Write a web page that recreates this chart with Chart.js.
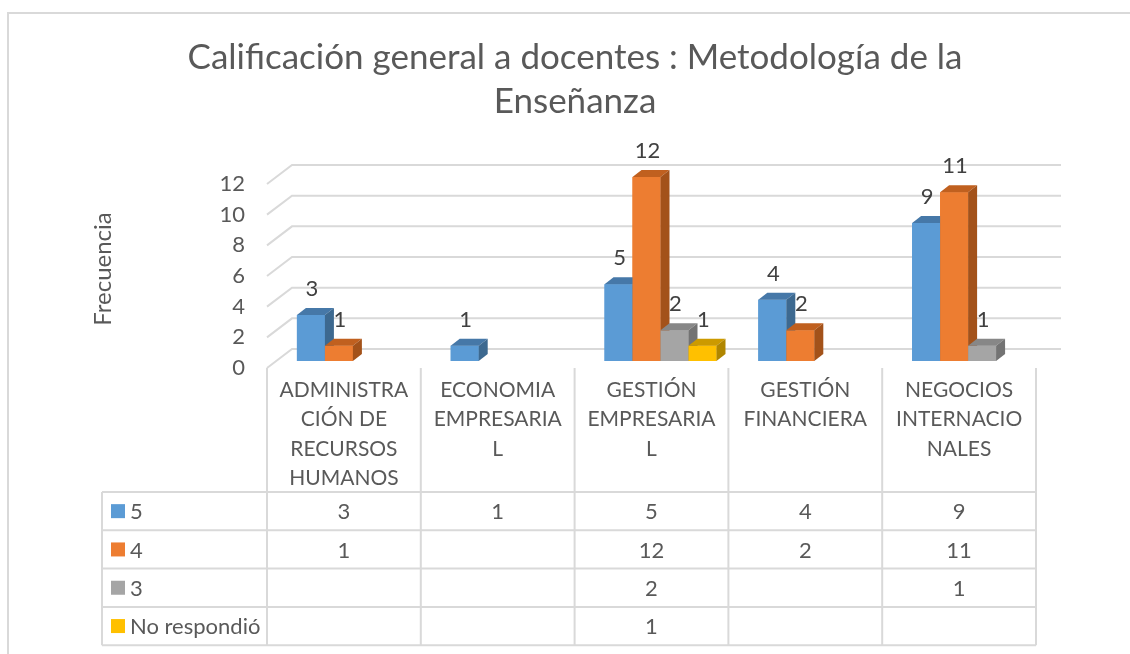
<!DOCTYPE html>
<html>
<head>
<meta charset="utf-8">
<script src="https://cdn.jsdelivr.net/npm/chart.js@4.4.1/dist/chart.umd.min.js"></script>
<style>
  html, body { margin: 0; padding: 0; background: #fff; overflow: hidden; }
  #wrap { position: relative; width: 1130px; height: 654px; }
  #frame {
    position: absolute; left: 7px; top: 12px; width: 1200px; height: 700px;
    border-left: 2px solid #d9d9d9; border-top: 2px solid #d9d9d9;
  }
  canvas { position: absolute; left: 0; top: 0; }
</style>
</head>
<body>
<div id="wrap">
  <div id="frame"></div>
  <canvas id="chart" width="1130" height="654"></canvas>
</div>
<script>
// data
const categories = [
  ['ADMINISTRA', 'CIÓN DE', 'RECURSOS', 'HUMANOS'],
  ['ECONOMIA', 'EMPRESARIA', 'L'],
  ['GESTIÓN', 'EMPRESARIA', 'L'],
  ['GESTIÓN', 'FINANCIERA'],
  ['NEGOCIOS', 'INTERNACIO', 'NALES']
];
const seriesNames = ['5', '4', '3', 'No respondió'];
const valores5 = [3, 1, 5, 4, 9];
const valores4 = [1, null, 12, 2, 11];
const valores3 = [null, null, 2, null, 1];
const noRespondio = [null, null, 1, null, null];

const FONT = 'Lato, "Open Sans", sans-serif';
const TEXT = '#595959';
const GRID = '#d9d9d9';

// colours: front, top, side
const faces = [
  ['#5b9bd5', '#4678a8', '#3d6990'],
  ['#ed7d31', '#c0601f', '#a3521a'],
  ['#a5a5a5', '#878787', '#737373'],
  ['#ffc000', '#cc9a00', '#b08600']
];

// 3d offsets: bar depth, front plane and back wall relative to the bar plane
const DEPTH = { dx: 9, dy: 7 };
const FRONT = { dx: -9, dy: 7 };
const BACK = { dx: 16, dy: -12 };

const backWall = {
  id: 'backWall',
  beforeDatasetsDraw(chart) {
    const { ctx, chartArea: a } = chart;
    const y = chart.scales.y;
    ctx.save();
    ctx.strokeStyle = GRID;
    ctx.lineWidth = 2;
    y.ticks.forEach(t => {
      const py = y.getPixelForValue(t.value);
      ctx.beginPath();
      ctx.moveTo(a.left + FRONT.dx, py + FRONT.dy);
      ctx.lineTo(a.left + BACK.dx, py + BACK.dy);
      ctx.lineTo(a.right + BACK.dx, py + BACK.dy);
      ctx.stroke();
    });
    ctx.restore();
  }
};

const bars3d = {
  id: 'bars3d',
  afterDatasetsDraw(chart) {
    const ctx = chart.ctx;
    ctx.save();
    chart.data.datasets.forEach((ds, i) => {
      const meta = chart.getDatasetMeta(i);
      const [front, top, side] = faces[i];
      meta.data.forEach((el, j) => {
        if (ds.data[j] == null) return;
        const { x, y, base, width } = el.getProps(['x', 'y', 'base', 'width'], true);
        const l = x - width / 2, r = x + width / 2;
        ctx.fillStyle = front;
        ctx.fillRect(l, y, width, base - y);
        ctx.fillStyle = top;
        ctx.beginPath();
        ctx.moveTo(l, y);
        ctx.lineTo(l + DEPTH.dx, y - DEPTH.dy);
        ctx.lineTo(r + DEPTH.dx, y - DEPTH.dy);
        ctx.lineTo(r, y);
        ctx.closePath();
        ctx.fill();
        ctx.fillStyle = side;
        ctx.beginPath();
        ctx.moveTo(r, y);
        ctx.lineTo(r + DEPTH.dx, y - DEPTH.dy);
        ctx.lineTo(r + DEPTH.dx, base - DEPTH.dy);
        ctx.lineTo(r, base);
        ctx.closePath();
        ctx.fill();
      });
    });
    // value labels
    ctx.fillStyle = '#404040';
    ctx.font = '22px ' + FONT;
    ctx.textAlign = 'center';
    ctx.textBaseline = 'middle';
    chart.data.datasets.forEach((ds, i) => {
      chart.getDatasetMeta(i).data.forEach((el, j) => {
        if (ds.data[j] == null) return;
        const { x, y } = el.getProps(['x', 'y'], true);
        ctx.fillText(String(ds.data[j]), x + 1, y - 26);
      });
    });
    ctx.restore();
  }
};

// data table under the plot
const ROW_TOP = 492;
const ROW_H = 38.3;
const TABLE_LEFT = 102;

const dataTable = {
  id: 'dataTable',
  afterDraw(chart) {
    const { ctx, chartArea: a } = chart;
    const xs = chart.scales.x;
    const n = categories.length;
    const catW = (a.right - a.left) / n;
    const left0 = a.left + FRONT.dx;
    const bottom = ROW_TOP + ROW_H * seriesNames.length;
    ctx.save();
    ctx.strokeStyle = GRID;
    ctx.lineWidth = 2;
    ctx.beginPath();
    for (let i = 0; i <= n; i++) {
      const px = left0 + i * catW;
      ctx.moveTo(px, a.bottom + FRONT.dy);
      ctx.lineTo(px, bottom);
    }
    ctx.moveTo(TABLE_LEFT, ROW_TOP);
    ctx.lineTo(TABLE_LEFT, bottom);
    for (let r = 0; r <= seriesNames.length; r++) {
      const py = ROW_TOP + r * ROW_H;
      ctx.moveTo(TABLE_LEFT, py);
      ctx.lineTo(left0 + n * catW, py);
    }
    ctx.stroke();

    ctx.font = '22px ' + FONT;
    ctx.textBaseline = 'middle';
    chart.data.datasets.forEach((ds, r) => {
      const cy = ROW_TOP + r * ROW_H + ROW_H / 2;
      ctx.fillStyle = faces[r][0];
      ctx.fillRect(TABLE_LEFT + 9, cy - 7, 14, 14);
      ctx.fillStyle = TEXT;
      ctx.textAlign = 'left';
      ctx.fillText(ds.label, TABLE_LEFT + 28, cy + 1);
      ctx.textAlign = 'center';
      ds.data.forEach((v, j) => {
        if (v == null) return;
        ctx.fillText(String(v), xs.getPixelForValue(j) + FRONT.dx, cy + 1);
      });
    });
    ctx.restore();
  }
};

const seriesData = [valores5, valores4, valores3, noRespondio];

new Chart(document.getElementById('chart'), {
  type: 'bar',
  data: {
    labels: categories,
    datasets: seriesNames.map((name, i) => ({
      label: name,
      data: seriesData[i],
      backgroundColor: faces[i][0],
      borderWidth: 0
    }))
  },
  options: {
    responsive: false,
    animation: false,
    devicePixelRatio: 1,
    categoryPercentage: 0.728,
    barPercentage: 1,
    layout: { padding: { left: 105, right: 85, top: 36, bottom: 0 } },
    plugins: {
      legend: { display: false },
      tooltip: { enabled: false },
      title: {
        display: true,
        text: ['Calificación general a docentes : Metodología de la', 'Enseñanza'],
        color: TEXT,
        font: { family: FONT, size: 35, weight: 'normal', lineHeight: '44px' },
        padding: { top: 0, bottom: 53 }
      }
    },
    scales: {
      x: {
        grid: { display: false },
        border: { display: false },
        ticks: {
          color: TEXT,
          font: { family: FONT, size: 21, lineHeight: '29.5px' },
          padding: 6,
          labelOffset: FRONT.dx,
          maxRotation: 0,
          autoSkip: false
        },
        afterFit(scale) { scale.height = 293; }
      },
      y: {
        min: 0,
        max: 12,
        grid: { display: false },
        border: { display: false },
        ticks: {
          stepSize: 2,
          color: TEXT,
          font: { family: FONT, size: 22 },
          padding: 23,
          labelOffset: FRONT.dy
        },
        title: {
          display: true,
          text: 'Frecuencia',
          color: TEXT,
          font: { family: FONT, size: 24 },
          padding: { top: -16, bottom: 0 }
        },
        afterFit(scale) { scale.width = 171; }
      }
    }
  },
  plugins: [backWall, bars3d, dataTable]
});
</script>
</body>
</html>
